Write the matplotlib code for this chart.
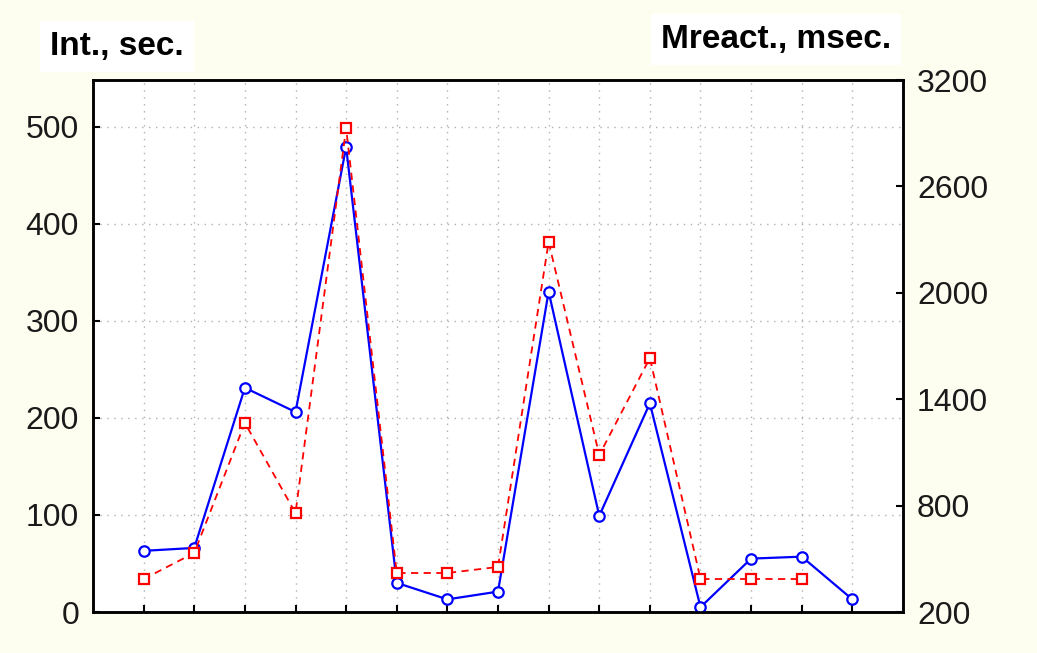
import matplotlib
matplotlib.use("Agg")
import matplotlib.pyplot as plt

# Data
x_pos = list(range(1, 16))
int_sec = [63, 66, 231, 206, 479, 30, 13, 21, 330, 99, 215, 5, 55, 57, 13]
mreact_x = list(range(1, 15))
mreact_msec = [386, 533, 1266, 758, 2929, 420, 420, 454, 2287, 1085, 1632, 386, 386, 386]
left_ticks = [0, 100, 200, 300, 400, 500]
right_ticks = [200, 800, 1400, 2000, 2600, 3200]

plt.rcParams['font.family'] = ['Liberation Sans', 'DejaVu Sans']
bg = '#FEFEF0'
fig = plt.figure(figsize=(10.37, 6.53), dpi=100, facecolor=bg)
ax = fig.add_axes([93/1037, 1-612/653, 810/1037, 532/653])
ax.set_facecolor('white')
ax.set_xlim(0, 16)
ax.set_ylim(0, 548)
ax.set_xticks(x_pos)
ax.set_xticklabels([])
ax.set_yticks(left_ticks)
ax.grid(True, color='#b0b0b0', linestyle=(0, (1, 4)), linewidth=1.0)
ax.tick_params(axis='both', direction='in', length=5, width=1.5, labelsize=23,
               colors='black', labelcolor='#1a1a1a')
ax.tick_params(axis='y', pad=10)
for s in ax.spines.values():
    s.set_linewidth(1.8)
    s.set_color('black')

ax.plot(x_pos, int_sec, color='#0000FF', linewidth=1.6, marker='o', markersize=7.5,
        markerfacecolor='white', markeredgecolor='#0000FF', markeredgewidth=1.6, zorder=3)

ax2 = ax.twinx()
ax2.set_ylim(200, 3200)
ax2.set_yticks(right_ticks)
ax2.tick_params(axis='y', direction='in', length=5, width=1.5, labelsize=23, pad=10,
                labelcolor='#1a1a1a')
for s in ax2.spines.values():
    s.set_linewidth(1.8)
ax2.plot(mreact_x, mreact_msec, color='#FF0000', linewidth=1.3, linestyle=(0, (4, 3)),
         marker='s', markersize=7, markerfacecolor='white', markeredgecolor='#FF0000',
         markeredgewidth=1.6, zorder=3)

fig.text(50/1037, 1-55/653, 'Int., sec.', fontsize=24, fontweight='bold',
         ha='left', va='baseline',
         bbox=dict(facecolor='white', edgecolor='none', boxstyle='square,pad=0.3'))
fig.text(661/1037, 1-48/653, 'Mreact., msec.', fontsize=24, fontweight='bold',
         ha='left', va='baseline',
         bbox=dict(facecolor='white', edgecolor='none', boxstyle='square,pad=0.3'))

fig.savefig('out.png', dpi=100, facecolor=bg)
